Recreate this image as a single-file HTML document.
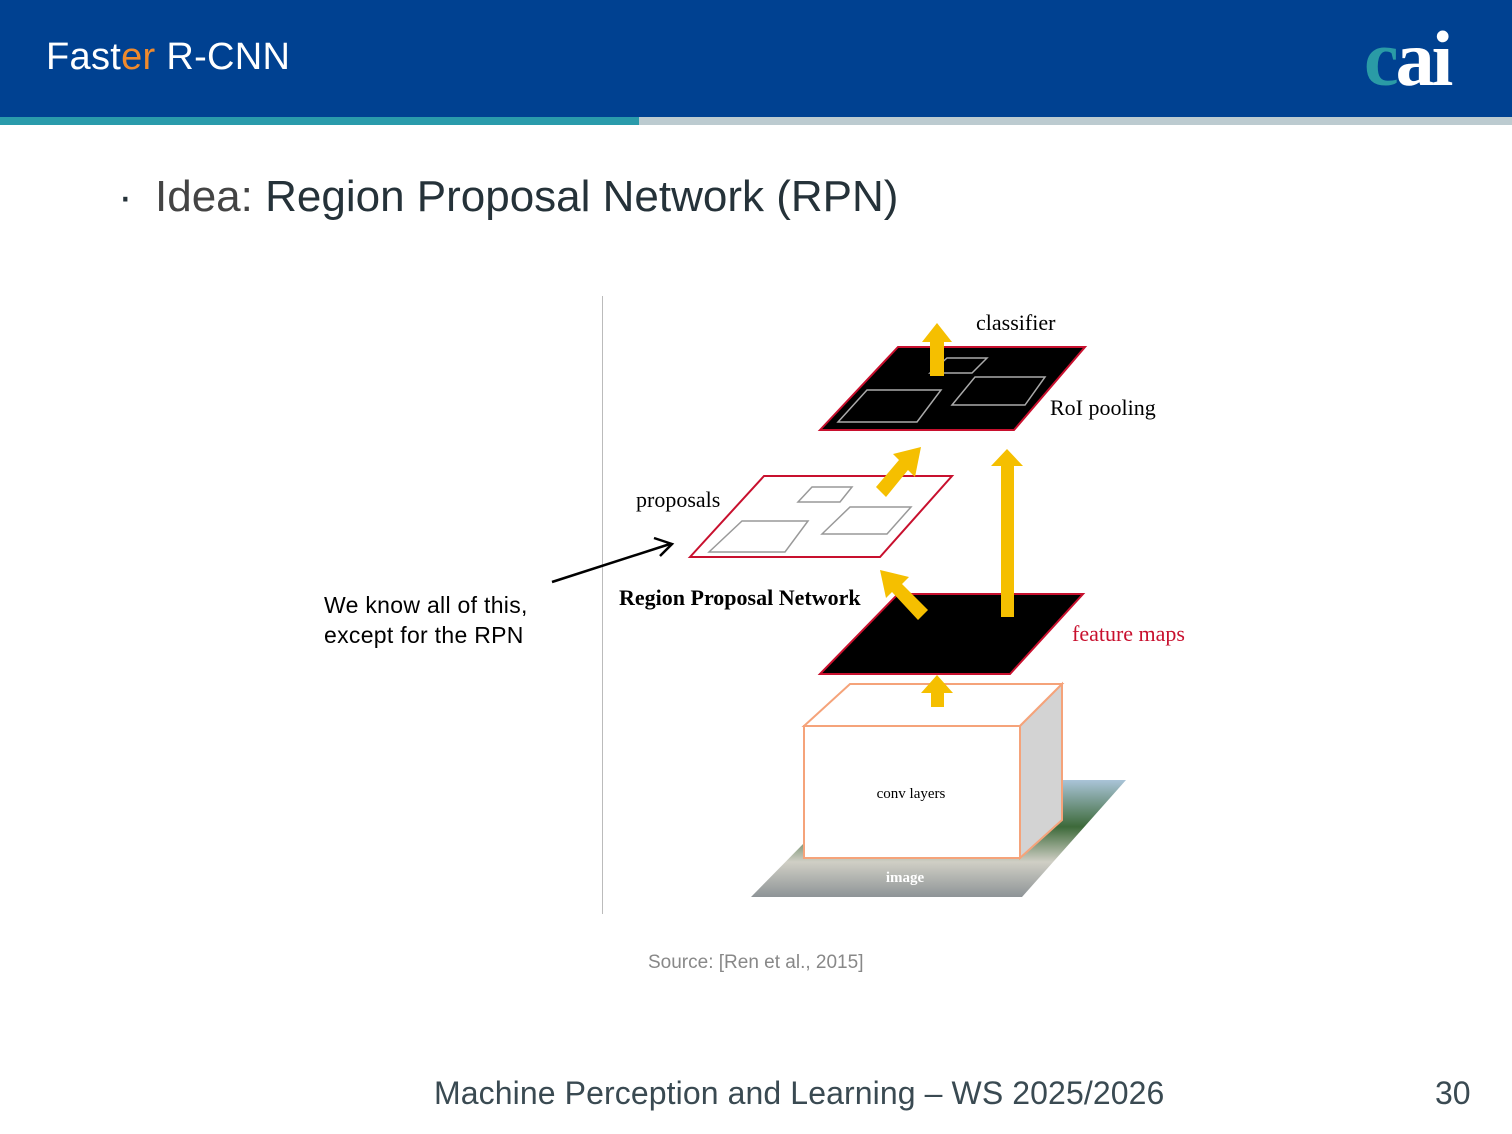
<!DOCTYPE html><html><head><style>
body{margin:0;width:1512px;height:1134px;background:#fff;position:relative;overflow:hidden;font-family:"Liberation Sans",sans-serif}
.hdr{position:absolute;left:0;top:0;width:1512px;height:117px;background:#004191}
.t{position:absolute;left:46px;top:36px;color:#fff;font-size:38px;letter-spacing:0.3px}
</style></head><body>
<div class="hdr"></div>
<div style="position:absolute;left:0;top:117px;width:639px;height:8px;background:#2a9bab"></div>
<div style="position:absolute;left:639px;top:117px;width:873px;height:8px;background:#bccbd0"></div>
<div class="t">Fast<span style="color:#f08a2c">er</span> R-CNN</div>
<div style="position:absolute;left:1364px;top:14px;font-family:'Liberation Serif',serif;font-size:78px;font-weight:bold;color:#fff;letter-spacing:-3px"><span style="color:#2a9ba6">c</span>ai</div>
<div style="position:absolute;left:118px;top:172px;font-size:44px;color:#253239">·</div>
<div style="position:absolute;left:155px;top:172px;font-size:44px;color:#253239"><span style="color:#444">Idea:</span> Region Proposal Network (RPN)</div>
<div style="position:absolute;left:602px;top:296px;width:1px;height:618px;background:#bbb"></div>
<div style="position:absolute;left:324px;top:590px;font-size:23px;line-height:30px;color:#000;letter-spacing:0.3px">We know all of this,<br>except for the RPN</div>
<svg width="1512" height="1134" style="position:absolute;left:0;top:0" font-family="Liberation Serif,serif">
<defs><linearGradient id="g" x1="0" y1="0" x2="0" y2="1"><stop offset="0" stop-color="#aac4d8"/><stop offset="0.4" stop-color="#3d6a3a"/><stop offset="0.7" stop-color="#d0cfc5"/><stop offset="1" stop-color="#8e9497"/></linearGradient></defs>
<polygon points="751,897 866,780 1126,780 1022,897" fill="url(#g)"/>
<polygon points="804,726 850,684 1062,684 1020,726" fill="#fff" stroke="#f5a37a" stroke-width="2"/>
<polygon points="1020,726 1062,684 1062,820 1020,858" fill="#d3d3d3" stroke="#f5a37a" stroke-width="2"/>
<rect x="804" y="726" width="216" height="132" fill="#fff" stroke="#f5a37a" stroke-width="2"/>
<text x="911" y="798" font-size="15" text-anchor="middle">conv layers</text>
<text x="905" y="882" font-size="15" fill="#fff" font-weight="bold" text-anchor="middle">image</text>
<polygon points="820,674 898,594 1083,594 1010,674" fill="#000" stroke="#c8102e" stroke-width="2"/>
<polygon points="690,557 764,476 952,476 880,557" fill="#fff" stroke="#c8102e" stroke-width="2"/>
<g fill="none" stroke="#999" stroke-width="1.5"><polygon points="709,552 742,521 808,521 785,552"/><polygon points="822,534 850,507 911,507 887,534"/><polygon points="798,502 812,487 852,487 840,502"/></g>
<polygon points="820,430 898,347 1085,347 1014,430" fill="#000" stroke="#c8102e" stroke-width="2"/>
<g fill="none" stroke="#aaa" stroke-width="1.5"><polygon points="838,422 867,390 941,390 917,422"/><polygon points="952,405 975,377 1045,377 1025,405"/><polygon points="930,373 947,358 987,358 972,373"/></g>
<g fill="#f5bf00">
<polygon points="930,376 944,376 944,342 952,342 937,323 922,342 930,342"/>
<polygon points="1001,617 1014,617 1014,466 1023,466 1007,449 991,466 1001,466"/>
<polygon points="931,707 944,707 944,693 953,693 937,675 921,693 931,693"/>
<polygon points="918,620 928,610 902,584 909,577 880,570 886,598 892,592"/>
<polygon points="876,487 886,497 908,470 915,477 921,447 893,454 899,460"/>
</g>
<text x="976" y="330" font-size="22">classifier</text>
<text x="1050" y="415" font-size="22">RoI pooling</text>
<text x="636" y="507" font-size="22">proposals</text>
<text x="619" y="605" font-size="22" font-weight="bold">Region Proposal Network</text>
<text x="1072" y="641" font-size="22" fill="#c8102e">feature maps</text>
<line x1="552" y1="582" x2="670" y2="544" stroke="#000" stroke-width="2.5"/>
<polyline points="654,538 672,544 660,556" fill="none" stroke="#000" stroke-width="2.5"/>
</svg>
<div style="position:absolute;left:648px;top:952px;font-size:19px;color:#888">Source: [Ren et al., 2015]</div>
<div style="position:absolute;left:434px;top:1075px;font-size:32px;color:#3a4a52;letter-spacing:0.1px">Machine Perception and Learning – WS 2025/2026</div>
<div style="position:absolute;left:1435px;top:1075px;font-size:32px;color:#3a4a52">30</div>
</body></html>
